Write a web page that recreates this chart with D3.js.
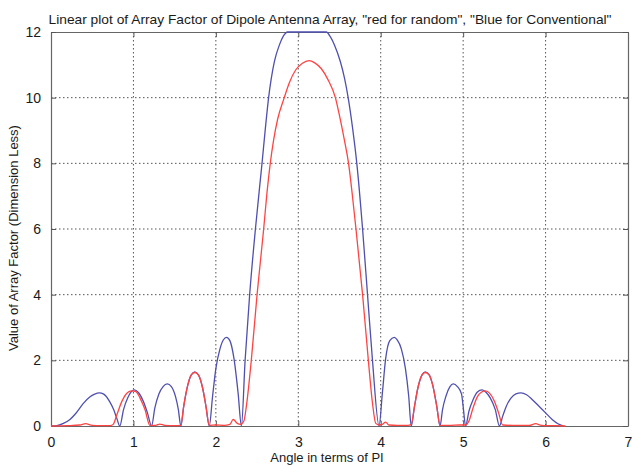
<!DOCTYPE html>
<html>
<head>
<meta charset="utf-8">
<script src="https://cdn.jsdelivr.net/npm/d3@7"></script>
<style>
  body { margin: 0; background: #fff; }
  text { font-family: "Liberation Sans", Arial, sans-serif; fill: #1a1a1a; }
</style>
</head>
<body>
<div id="chart"></div>
<script>
// angle (in multiples of pi) and array factor
var blueX = [0, 0.07, 0.15, 0.23, 0.3, 0.39, 0.47, 0.53, 0.585, 0.64, 0.71, 0.76, 0.8, 0.835,
  0.88, 0.93, 0.97, 1.01, 1.06, 1.12, 1.17, 1.22,
  1.26, 1.31, 1.36, 1.41, 1.46, 1.51, 1.545, 1.575,
  1.61, 1.66, 1.7, 1.745, 1.79, 1.84, 1.88, 1.92,
  1.96, 2.0, 2.05, 2.09, 2.13, 2.17, 2.22, 2.27, 2.31,
  2.355, 2.41, 2.48, 2.56, 2.6, 2.64, 2.71, 2.77, 2.82, 2.87,
  3.34, 3.39, 3.44, 3.51, 3.56, 3.605, 3.66, 3.71, 3.78, 3.84, 3.9, 3.98,
  4.02, 4.06, 4.11, 4.165, 4.2, 4.25, 4.3, 4.34, 4.37,
  4.41, 4.45, 4.5, 4.54, 4.59, 4.63, 4.68, 4.72,
  4.75, 4.79, 4.84, 4.88, 4.93, 4.98, 5.0, 5.03,
  5.07, 5.12, 5.17, 5.23, 5.28, 5.33, 5.39, 5.44,
  5.48, 5.52, 5.58, 5.64, 5.7, 5.77, 5.84, 5.92, 6.0, 6.08, 6.15, 6.22];
var blueY = [0, 0.01, 0.08, 0.2, 0.38, 0.68, 0.88, 0.97, 1.01, 0.97, 0.75, 0.5, 0.22, 0,
  0.5, 0.85, 1.03, 1.1, 1.02, 0.75, 0.4, 0,
  0.55, 0.98, 1.2, 1.28, 1.2, 0.9, 0.5, 0,
  0.6, 1.25, 1.55, 1.65, 1.55, 1.15, 0.6, 0,
  0.9, 1.75, 2.35, 2.62, 2.7, 2.6, 2.05, 1.0, 0,
  2, 4, 6, 8, 9.05, 10, 11.1, 11.6, 11.88, 12,
  12, 11.85, 11.6, 11.1, 10.6, 10, 9.05, 8, 6, 4, 2, 0,
  1.0, 2.05, 2.6, 2.7, 2.62, 2.35, 1.75, 0.9, 0,
  0.6, 1.15, 1.55, 1.65, 1.55, 1.25, 0.6, 0,
  0.5, 0.9, 1.2, 1.28, 1.2, 0.98, 0.6, 0,
  0.45, 0.8, 1.03, 1.1, 1.02, 0.85, 0.5, 0,
  0.3, 0.58, 0.85, 0.98, 1.01, 0.95, 0.8, 0.6, 0.4, 0.2, 0.07, 0];

var redX = [0, 0.2, 0.35, 0.42, 0.5, 0.6, 0.72, 0.755, 0.8, 0.86, 0.92, 0.98, 1.03, 1.08, 1.14, 1.2,
  1.27, 1.32, 1.38, 1.5, 1.575,
  1.61, 1.66, 1.7, 1.745, 1.79, 1.84, 1.88, 1.92,
  2.0, 2.1, 2.17, 2.21, 2.26, 2.3, 2.34, 2.37, 2.43, 2.5, 2.58, 2.62, 2.66, 2.7, 2.75, 2.83, 2.89, 2.97, 3.05, 3.13,
  3.2, 3.28, 3.36, 3.45, 3.5, 3.56, 3.61, 3.655, 3.7, 3.78, 3.85, 3.9, 3.94, 3.98, 4.02, 4.06, 4.1, 4.2, 4.33, 4.37,
  4.41, 4.45, 4.5, 4.54, 4.59, 4.63, 4.68, 4.72,
  4.85, 4.95, 5.03, 5.07, 5.12, 5.17, 5.22, 5.27, 5.32, 5.38, 5.43, 5.48,
  5.6, 5.8, 5.88, 5.95, 6.1, 6.24];
var redY = [0, 0.01, 0.03, 0.07, 0.02, 0.01, 0.01, 0.05, 0.35, 0.75, 1.0, 1.07, 1.05, 0.85, 0.5, 0.02,
  0.02, 0.06, 0.02, 0.01, 0.02,
  0.6, 1.25, 1.55, 1.63, 1.55, 1.15, 0.6, 0.02,
  0.03, 0.02, 0.05, 0.2, 0.08, 0.05, 0.15, 0.6, 2, 4, 6, 7.1, 8, 8.7, 9.35, 10, 10.45, 10.85, 11.05, 11.13,
  11.06, 10.88, 10.55, 10, 9.45, 8.7, 8, 7.05, 6, 4, 2, 0.7, 0.08, 0.03, 0.05, 0.12, 0.03, 0.02, 0.02, 0.05,
  0.6, 1.15, 1.55, 1.63, 1.55, 1.25, 0.6, 0.02,
  0.02, 0.03, 0.03, 0.15, 0.55, 0.88, 1.03, 1.07, 1.0, 0.75, 0.4, 0.03,
  0.02, 0.02, 0.07, 0.02, 0.01, 0];

var xTicks = [0, 1, 2, 3, 4, 5, 6, 7];
var yTicks = [0, 2, 4, 6, 8, 10, 12];

var margin = {top: 32, right: 4, bottom: 40, left: 51},
    width = 632 - margin.left - margin.right,
    height = 466 - margin.top - margin.bottom;

var svg = d3.select("#chart").append("svg")
    .attr("width", 632)
    .attr("height", 466);

var g = svg.append("g")
    .attr("transform", "translate(" + margin.left + "," + margin.top + ")");

var x = d3.scaleLinear().domain([0, 7]).range([0, width]);
var y = d3.scaleLinear().domain([0, 12]).range([height, 0]);

// dotted grid
g.append("g")
    .selectAll("line")
    .data(xTicks.slice(1, -1))
    .enter().append("line")
    .attr("x1", function(d) { return x(d); })
    .attr("x2", function(d) { return x(d); })
    .attr("y1", 0).attr("y2", height)
    .attr("stroke", "#555").attr("stroke-width", 1)
    .attr("stroke-dasharray", "1.5,2.5");
g.append("g")
    .selectAll("line")
    .data(yTicks.slice(1, -1))
    .enter().append("line")
    .attr("y1", function(d) { return y(d); })
    .attr("y2", function(d) { return y(d); })
    .attr("x1", 0).attr("x2", width)
    .attr("stroke", "#555").attr("stroke-width", 1)
    .attr("stroke-dasharray", "1.5,2.5");

// axes with inward ticks, box on all sides
var fmt = d3.format("d");
var xAxis = g.append("g")
    .attr("transform", "translate(0," + height + ")")
    .call(d3.axisBottom(x).tickValues(xTicks).tickFormat(fmt).tickSizeInner(-5).tickSizeOuter(0).tickPadding(11));
var xTop = g.append("g")
    .call(d3.axisTop(x).tickValues(xTicks).tickSizeInner(-5).tickSizeOuter(0).tickFormat(""));
var yAxis = g.append("g")
    .call(d3.axisLeft(y).tickValues(yTicks).tickFormat(fmt).tickSizeInner(-5).tickSizeOuter(0).tickPadding(10));
var yRight = g.append("g")
    .attr("transform", "translate(" + width + ",0)")
    .call(d3.axisRight(y).tickValues(yTicks).tickSizeInner(-5).tickSizeOuter(0).tickFormat(""));

[xAxis, xTop, yAxis, yRight].forEach(function(a) {
  a.selectAll("path").attr("stroke", "#666").attr("stroke-width", 1.2);
  a.selectAll("line").attr("stroke", "#555");
  a.selectAll("text").style("font-size", "14px").attr("fill", "#1a1a1a");
});

// lines
var line = d3.line()
    .x(function(d) { return x(d[0]); })
    .y(function(d) { return y(d[1]); })
    .curve(d3.curveMonotoneX);

g.append("path")
    .datum(d3.zip(blueX, blueY))
    .attr("fill", "none")
    .attr("stroke", "#4f4fb0")
    .attr("stroke-width", 1.3)
    .attr("d", line);

g.append("path")
    .datum(d3.zip(redX, redY))
    .attr("fill", "none")
    .attr("stroke", "#ff4444")
    .attr("stroke-width", 1.3)
    .attr("d", line);

// titles
svg.append("text")
    .attr("x", 330).attr("y", 24)
    .attr("text-anchor", "middle")
    .attr("textLength", 563).attr("lengthAdjust", "spacingAndGlyphs")
    .style("font-size", "13.5px")
    .text('Linear plot of Array Factor of Dipole Antenna Array, "red for random", "Blue for Conventional"');

svg.append("text")
    .attr("x", 327).attr("y", 462)
    .attr("text-anchor", "middle")
    .style("font-size", "13px")
    .text("Angle in terms of PI");

svg.append("text")
    .attr("transform", "translate(18,238) rotate(-90)")
    .attr("text-anchor", "middle")
    .style("font-size", "13px")
    .text("Value of Array Factor (Dimension Less)");
</script>
</body>
</html>
